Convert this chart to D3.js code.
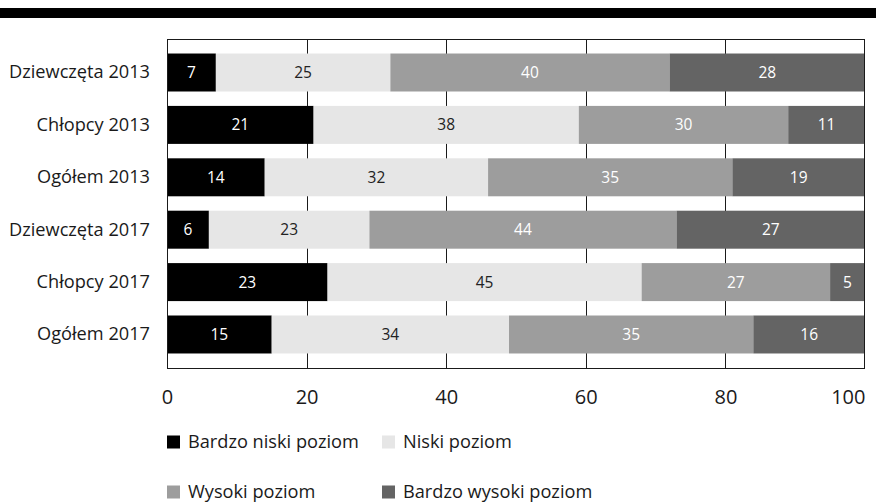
<!DOCTYPE html>
<html>
<head>
<meta charset="utf-8">
<script src="https://cdn.jsdelivr.net/npm/d3@7/dist/d3.min.js"></script>
<style>
  html, body { margin: 0; padding: 0; background: #fff; }
  svg { display: block; font-family: "Open Sans", "Noto Sans", sans-serif; }
</style>
</head>
<body>
<svg id="chart" width="876" height="502"></svg>
<script>
// Kategorie (wiersze wykresu)
const categories = ["Dziewczęta 2013", "Chłopcy 2013", "Ogółem 2013",
                    "Dziewczęta 2017", "Chłopcy 2017", "Ogółem 2017"];
// Serie – udział procentowy poziomów
const seriesNames = ["Bardzo niski poziom", "Niski poziom", "Wysoki poziom", "Bardzo wysoki poziom"];
const bardzoNiski  = [7, 21, 14, 6, 23, 15];
const niski        = [25, 38, 32, 23, 45, 34];
const wysoki       = [40, 30, 35, 44, 27, 35];
const bardzoWysoki = [28, 11, 19, 27, 5, 16];
const xTicks = [0, 20, 40, 60, 80, 100];

const seriesValues = [bardzoNiski, niski, wysoki, bardzoWysoki];
const colors = ["#000000", "#e6e6e6", "#9d9d9d", "#646464"];
const textColors = ["#ffffff", "#222222", "#ffffff", "#ffffff"];

const rows = categories.map((c, i) => {
  const r = { cat: c };
  seriesNames.forEach((s, k) => r[s] = seriesValues[k][i]);
  return r;
});
const stacked = d3.stack().keys(seriesNames)(rows);

const svg = d3.select("#chart");
const margin = { left: 167, right: 11, top: 39, bottom: 134 };
const W = 876, H = 502;
const plotW = W - margin.left - margin.right;
const plotH = H - margin.top - margin.bottom;

// Pasek u góry
svg.append("rect").attr("x", 0).attr("y", 8).attr("width", W).attr("height", 10).attr("fill", "#000");

const g = svg.append("g").attr("transform", `translate(${margin.left},${margin.top})`);

const x = d3.scaleLinear().domain([0, 100]).range([0, plotW]);
const y = d3.scaleBand().domain(categories).range([0, plotH]).paddingInner(0.275).paddingOuter(0.277);

// Linie siatki
g.append("g").selectAll("line").data(xTicks.slice(1, -1)).join("line")
  .attr("x1", d => Math.round(x(d)) + 0.5).attr("x2", d => Math.round(x(d)) + 0.5)
  .attr("y1", 0).attr("y2", plotH)
  .attr("stroke", "#1a1a1a").attr("stroke-width", 1);

// Słupki
const layers = g.append("g").selectAll("g").data(stacked).join("g")
  .attr("fill", (d, i) => colors[i]);
layers.selectAll("rect").data(d => d).join("rect")
  .attr("x", d => x(d[0]))
  .attr("width", d => x(d[1]) - x(d[0]))
  .attr("y", d => y(d.data.cat))
  .attr("height", y.bandwidth());

// Etykiety wartości
stacked.forEach((layer, k) => {
  g.append("g").selectAll("text").data(layer).join("text")
    .attr("x", d => (x(d[0]) + x(d[1])) / 2)
    .attr("y", d => y(d.data.cat) + y.bandwidth() / 2)
    .attr("dy", "0.35em")
    .attr("text-anchor", "middle")
    .attr("font-size", 15.5)
    .attr("fill", textColors[k])
    .text(d => d[1] - d[0]);
});

// Ramka obszaru wykresu
g.append("rect").attr("x", 0.5).attr("y", 0.5).attr("width", plotW - 1).attr("height", plotH)
  .attr("fill", "none").attr("stroke", "#1a1a1a").attr("stroke-width", 1);

// Oś Y
const yAxis = g.append("g").call(d3.axisLeft(y).tickSize(0).tickPadding(17));
yAxis.select(".domain").remove();
yAxis.selectAll("text").attr("font-size", 18.2).attr("fill", "#1a1a1a")
  .attr("font-family", "'Open Sans', 'Noto Sans', sans-serif");

// Oś X
const xAxis = g.append("g").attr("transform", `translate(0,${plotH})`)
  .call(d3.axisBottom(x).tickValues(xTicks).tickSize(0).tickPadding(22));
xAxis.select(".domain").remove();
xAxis.selectAll("text").attr("font-size", 20).attr("fill", "#1a1a1a")
  .attr("font-family", "'Open Sans', 'Noto Sans', sans-serif")
  .attr("text-anchor", (d, i, n) => i === n.length - 1 ? "end" : "middle");

// Legenda
const legendPos = [[167, 442], [382, 442], [167, 492], [382, 492]];
const legend = svg.append("g").selectAll("g").data(seriesNames).join("g")
  .attr("transform", (d, i) => `translate(${legendPos[i][0]},${legendPos[i][1]})`);
legend.append("rect").attr("x", 0).attr("y", -6.5).attr("width", 13).attr("height", 13)
  .attr("fill", (d, i) => colors[i]);
legend.append("text").attr("x", 21).attr("y", 0).attr("dy", "0.35em")
  .attr("font-size", 18.2).attr("fill", "#1a1a1a").text(d => d);
</script>
</body>
</html>
